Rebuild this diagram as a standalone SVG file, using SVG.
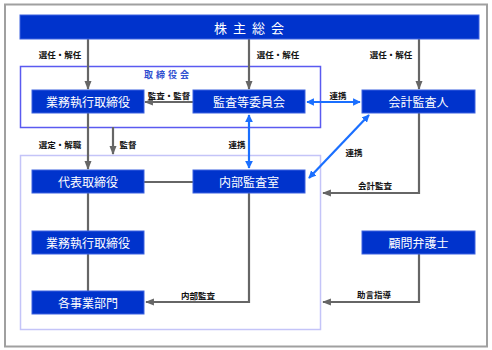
<svg xmlns="http://www.w3.org/2000/svg" width="492" height="350" viewBox="0 0 492 350">
<defs>
<style>
.box{fill:#0033cc;stroke:#3d63e0;stroke-width:1}
.bt{font-family:"Noto Sans CJK JP","Noto Sans",sans-serif;font-size:12px;fill:#ffffff;text-anchor:middle;dominant-baseline:central}
.lb{font-family:"Noto Sans CJK JP","Noto Sans",sans-serif;font-size:8.5px;font-weight:bold;fill:#111111;text-anchor:middle;dominant-baseline:central}
.g{stroke:#666666;stroke-width:2.2;fill:none}
.b{stroke:#1a6fff;stroke-width:2.2;fill:none}
</style>
<marker id="ag" viewBox="0 0 10 10" refX="9" refY="5" markerWidth="4" markerHeight="4" orient="auto-start-reverse" markerUnits="strokeWidth">
<path d="M0,1 L10,5 L0,9 Z" fill="#666666"/>
</marker>
<marker id="ab" viewBox="0 0 10 10" refX="9" refY="5" markerWidth="3.5" markerHeight="3.5" orient="auto-start-reverse" markerUnits="strokeWidth">
<path d="M0,0 L10,5 L0,10 Z" fill="#1a6fff"/>
</marker>
</defs>
<rect x="0" y="0" width="492" height="350" fill="#ffffff"/>
<rect x="5" y="4.5" width="482" height="342" fill="none" stroke="#a0a0a0" stroke-width="2"/>

<g id="board-frame">
<rect x="20.5" y="66.5" width="300" height="61" fill="none" stroke="#5a5af0" stroke-width="1.5"/>
<text x="168" y="74" style="font-family:'Noto Sans CJK JP','Noto Sans',sans-serif;font-size:9px;font-weight:bold;fill:#2f4fd0;text-anchor:middle;dominant-baseline:central;letter-spacing:3px">取締役会</text>
</g>
<g id="internal-frame">
<rect x="20.5" y="155.5" width="300" height="174" fill="none" stroke="#c4c4f8" stroke-width="1.5"/>
</g>

<g id="connectors">
<line class="g" x1="88" y1="39" x2="88" y2="89" marker-end="url(#ag)"/>
<line class="g" x1="249" y1="39" x2="249" y2="89" marker-end="url(#ag)"/>
<line class="g" x1="419" y1="39" x2="419" y2="89" marker-end="url(#ag)"/>
<line class="g" x1="193" y1="102" x2="145" y2="102" marker-end="url(#ag)"/>
<line class="b" x1="307" y1="102" x2="360" y2="102" marker-start="url(#ab)" marker-end="url(#ab)"/>
<line class="g" x1="88" y1="113" x2="88" y2="169" marker-end="url(#ag)"/>
<line class="g" x1="113" y1="127" x2="113" y2="154" marker-end="url(#ag)"/>
<line class="b" x1="249" y1="115" x2="249" y2="168" marker-start="url(#ab)" marker-end="url(#ab)"/>
<line class="b" x1="369" y1="115" x2="309" y2="178" marker-start="url(#ab)" marker-end="url(#ab)"/>
<line class="g" x1="144" y1="182" x2="193" y2="182"/>
<polyline class="g" points="419,113 419,193 323,193" marker-end="url(#ag)"/>
<line class="g" x1="88" y1="193" x2="88" y2="231"/>
<line class="g" x1="88" y1="254" x2="88" y2="291"/>
<polyline class="g" points="249,193 249,302 146,302" marker-end="url(#ag)"/>
<polyline class="g" points="419,254 419,302 323,302" marker-end="url(#ag)"/>
<text class="lb" x="60" y="54">選任・解任</text>
<text class="lb" x="278" y="54">選任・解任</text>
<text class="lb" x="391" y="54">選任・解任</text>
<text class="lb" x="169" y="95">監査・監督</text>
<text class="lb" x="338" y="95">連携</text>
<text class="lb" x="60" y="144">選定・解職</text>
<text class="lb" x="128" y="144">監督</text>
<text class="lb" x="237" y="144">連携</text>
<text class="lb" x="354" y="152">連携</text>
<text class="lb" x="375" y="185">会計監査</text>
<text class="lb" x="198" y="295">内部監査</text>
<text class="lb" x="374" y="294">助言指導</text>
</g>

<g id="shareholders">
<rect class="box" x="20" y="15" width="459" height="24"/>
<text class="bt" x="252" y="27" style="font-size:13px;letter-spacing:6px">株主総会</text>
</g>
<g id="exec-directors-1">
<rect class="box" x="32" y="90" width="112" height="23"/>
<text class="bt" x="88" y="101.5">業務執行取締役</text>
</g>
<g id="audit-committee">
<rect class="box" x="193" y="90" width="112" height="23"/>
<text class="bt" x="249" y="101.5">監査等委員会</text>
</g>
<g id="accounting-auditor">
<rect class="box" x="362" y="90" width="113" height="23"/>
<text class="bt" x="418.5" y="101.5">会計監査人</text>
</g>
<g id="representative">
<rect class="box" x="32" y="170" width="112" height="23"/>
<text class="bt" x="88" y="181.5">代表取締役</text>
</g>
<g id="internal-audit">
<rect class="box" x="193" y="170" width="112" height="23"/>
<text class="bt" x="249" y="181.5">内部監査室</text>
</g>
<g id="exec-directors-2">
<rect class="box" x="32" y="231" width="112" height="23"/>
<text class="bt" x="88" y="242.5">業務執行取締役</text>
</g>
<g id="divisions">
<rect class="box" x="32" y="291" width="112" height="23"/>
<text class="bt" x="88" y="302.5">各事業部門</text>
</g>
<g id="legal-advisor">
<rect class="box" x="362" y="231" width="113" height="23"/>
<text class="bt" x="418.5" y="242.5">顧問弁護士</text>
</g>
</svg>
